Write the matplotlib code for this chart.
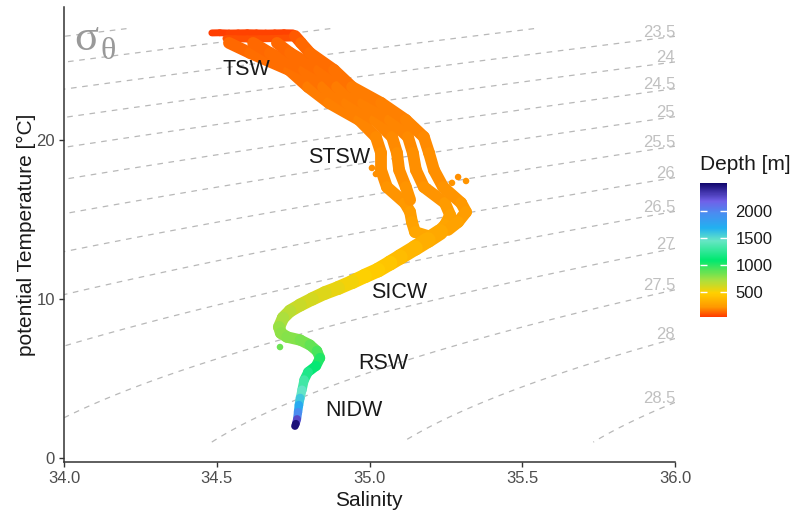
import numpy as np
import matplotlib
matplotlib.use("Agg")
import matplotlib.pyplot as plt
from matplotlib.collections import LineCollection
from matplotlib.colors import LinearSegmentedColormap, Normalize
from matplotlib.cm import ScalarMappable

plt.rcParams['font.family'] = ['Liberation Sans', 'DejaVu Sans']

# ---------------- data ----------------
# surface mixed-layer rows
row1_sal = [34.484, 34.51, 34.54, 34.57, 34.60, 34.63, 34.66, 34.69, 34.72, 34.75]
row1_temp = [26.73, 26.74, 26.72, 26.73, 26.74, 26.73, 26.72, 26.73, 26.74, 26.73]
row1_depth = [45, 46, 47, 48, 49, 50, 51, 52, 53, 55]

row2_sal = [34.53, 34.56, 34.60, 34.64, 34.68, 34.72, 34.77]
row2_temp = [26.38, 26.36, 26.35, 26.36, 26.37, 26.40, 26.42]
row2_depth = [85, 84, 83, 82, 81, 80, 80]

# upper (TSW / STSW) streaks, left to right
s1_sal = [34.540, 34.609, 34.737, 34.799, 34.867, 34.966, 35.021, 35.038, 35.038, 35.057, 35.116, 35.133, 35.139, 35.149, 35.191]
s1_temp = [26.10, 25.47, 24.40, 23.33, 22.33, 21.26, 20.19, 19.18, 18.11, 17.04, 16.04, 15.47, 14.84, 14.21, 13.96]
s1_depth = [120, 130, 145, 160, 172, 182, 190, 198, 206, 215, 225, 235, 255, 280, 290]

s2_sal = [34.619, 34.674, 34.786, 34.848, 34.926, 35.018, 35.074, 35.090, 35.097, 35.119, 35.133]
s2_temp = [26.10, 25.47, 24.40, 23.33, 22.33, 21.26, 20.19, 19.18, 18.11, 17.04, 16.23]
s2_depth = [120, 130, 145, 160, 172, 182, 190, 198, 206, 215, 222]

s3_sal = [34.697, 34.740, 34.835, 34.894, 34.979, 35.067, 35.126, 35.142, 35.152, 35.178, 35.247, 35.264, 35.247, 35.224]
s3_temp = [26.10, 25.47, 24.40, 23.33, 22.33, 21.26, 20.19, 19.18, 18.11, 17.04, 16.04, 15.28, 14.65, 14.21]
s3_depth = [120, 130, 145, 160, 172, 182, 190, 198, 206, 215, 225, 240, 262, 280]

s4_sal = [34.756, 34.776, 34.805, 34.884, 34.943, 35.038, 35.119, 35.178, 35.195, 35.211, 35.241, 35.300, 35.316, 35.290, 35.257]
s4_temp = [26.54, 26.10, 25.47, 24.40, 23.33, 22.33, 21.26, 20.19, 19.18, 18.11, 17.04, 16.04, 15.47, 14.84, 14.34]
s4_depth = [75, 120, 130, 145, 160, 172, 182, 190, 198, 206, 215, 225, 235, 255, 272]

# lower profile (SICW, RSW, NIDW)
low_sal = [35.231, 35.191, 35.149, 35.100, 35.067, 35.028, 34.985, 34.943, 34.897, 34.854,
           34.812, 34.773, 34.740, 34.717, 34.704, 34.710, 34.730, 34.773, 34.805, 34.828,
           34.838, 34.825, 34.799, 34.786, 34.779, 34.773, 34.769, 34.766, 34.763, 34.759, 34.756]
low_temp = [14.21, 13.71, 13.21, 12.64, 12.26, 11.82, 11.45, 11.07, 10.69, 10.38,
            10.00, 9.62, 9.25, 8.81, 8.24, 7.86, 7.61, 7.42, 7.11, 6.73,
            6.29, 5.79, 5.41, 4.91, 4.28, 3.77, 3.33, 2.89, 2.45, 2.16, 2.01]
low_depth = [280, 305, 340, 380, 410, 445, 475, 505, 535, 560,
             590, 620, 650, 690, 740, 770, 790, 810, 850, 900,
             970, 1070, 1150, 1250, 1390, 1520, 1650, 1820, 2100, 2450, 2515]

# scattered single points
extra_sal = [35.290, 35.316, 35.270, 35.008, 35.021, 34.707]
extra_temp = [17.67, 17.42, 17.30, 18.24, 17.86, 6.98]
extra_depth = [210, 212, 212, 205, 208, 860]

water_masses = ["TSW", "STSW", "SICW", "RSW", "NIDW"]
wm_sal = [34.596, 34.900, 35.097, 35.044, 34.949]
wm_temp = [24.40, 18.87, 10.38, 5.97, 2.96]

sigma_levels = np.arange(22.0, 29.0, 0.5)
depth_ticks = [500, 1000, 1500, 2000]
x_ticks = [34.0, 34.5, 35.0, 35.5, 36.0]
x_ticklabels = ["34.0", "34.5", "35.0", "35.5", "36.0"]
y_ticks = [0, 10, 20]

# ---------------- styling ----------------
dmin, dmax = 37, 2520
node_depths = [37, 225, 480, 720, 1090, 1450, 1690, 1965, 2185, 2520]
node_colors = ["#ff3d00", "#ff9a00", "#ffd000", "#a8e040", "#00e870",
               "#66e6c4", "#22b0f0", "#4a8cf0", "#7060e8", "#12086e"]
pos = [(d - dmin) / (dmax - dmin) for d in node_depths]
cmap = LinearSegmentedColormap.from_list("depth", list(zip(pos, node_colors)))
norm = Normalize(vmin=dmin, vmax=dmax)


def sigma_theta(S, T):
    S = S * 35.0 / 35.16504
    rw = (999.842594 + 6.793952e-2 * T - 9.095290e-3 * T**2 + 1.001685e-4 * T**3
          - 1.120083e-6 * T**4 + 6.536332e-9 * T**5)
    A = 8.24493e-1 - 4.0899e-3 * T + 7.6438e-5 * T**2 - 8.2467e-7 * T**3 + 5.3875e-9 * T**4
    B = -5.72466e-3 + 1.0227e-4 * T - 1.6546e-6 * T**2
    C = 4.8314e-4
    return rw + A * S + B * S**1.5 + C * S**2 - 1000.0


fig = plt.figure(figsize=(7.95, 5.13), dpi=100)
ax = fig.add_axes([64 / 795, 51.3 / 513, 611 / 795, 454.7 / 513])

# isopycnals
Sg = np.linspace(34.0, 36.0, 301)
Tg = np.linspace(1.0, 27.0, 401)
SS, TT = np.meshgrid(Sg, Tg)
sig = sigma_theta(SS, TT)
cs = ax.contour(SS, TT, sig, levels=sigma_levels, colors="#b8b8b8",
                linewidths=0.9, linestyles="dashed", zorder=1)
cs.set_linestyle([(0, (4.5, 4.5))])

Tfine = np.linspace(1.0, 27.0, 2601)
sig36 = sigma_theta(np.full_like(Tfine, 36.0), Tfine)
for lv in sigma_levels:
    if sig36.min() <= lv <= sig36.max():
        t_end = np.interp(lv, sig36[::-1], Tfine[::-1])
        ax.text(36.0, t_end - 0.22, f"{lv:g}", ha="right", va="bottom",
                fontsize=12, color="#c0c0c0", zorder=1.5)


def add_trace(s, t, d, lw):
    pts = np.column_stack([s, t])
    segs = np.stack([pts[:-1], pts[1:]], axis=1)
    dd = np.asarray(d, dtype=float)
    lc = LineCollection(segs, cmap=cmap, norm=norm, linewidths=lw,
                        capstyle="round", joinstyle="round", zorder=2)
    lc.set_array((dd[:-1] + dd[1:]) / 2)
    ax.add_collection(lc)


add_trace(row1_sal, row1_temp, row1_depth, 5.0)
add_trace(row2_sal, row2_temp, row2_depth, 5.0)
add_trace(s1_sal, s1_temp, s1_depth, 8.5)
add_trace(s2_sal, s2_temp, s2_depth, 8.5)
add_trace(s3_sal, s3_temp, s3_depth, 8.5)
add_trace(s4_sal, s4_temp, s4_depth, 8.5)
add_trace(low_sal, low_temp, low_depth, list(np.linspace(11.5, 5.5, len(low_sal) - 1)))
ax.scatter(extra_sal, extra_temp, c=extra_depth, cmap=cmap, norm=norm, s=22,
           linewidths=0, zorder=2)

for name, s, t in zip(water_masses, wm_sal, wm_temp):
    ax.text(s, t, name, ha="center", va="center", fontsize=15.5, color="#1a1a1a", zorder=3)

ax.text(34.034, 25.66, "σ", fontsize=32, color="#999999", family="Liberation Serif",
        ha="left", va="baseline", zorder=3)
ax.text(34.118, 25.09, "θ", fontsize=23, color="#999999", family="Liberation Serif",
        ha="left", va="baseline", zorder=3)

ax.set_xlim(34.0, 36.0)
ax.set_ylim(-0.23, 28.36)
ax.set_xticks(x_ticks)
ax.set_xticklabels(x_ticklabels)
ax.set_yticks(y_ticks)
for sp in ["top", "right"]:
    ax.spines[sp].set_visible(False)
for sp in ["left", "bottom"]:
    ax.spines[sp].set_color("#333333")
    ax.spines[sp].set_linewidth(1.1)
ax.tick_params(direction="out", length=3.5, width=1.0, color="#333333",
               labelcolor="#4d4d4d", labelsize=12, pad=3)

fig.text(369 / 795, 1 - 500 / 513, "Salinity", ha="center", va="center",
         fontsize=15, color="#1a1a1a")
fig.text(26 / 795, 1 - 235 / 513, "potential Temperature [°C]", ha="center",
         va="center", rotation=90, fontsize=15, color="#1a1a1a")

# colourbar legend
cax = fig.add_axes([700 / 795, (513 - 317) / 513, 27 / 795, 134 / 513])
sm = ScalarMappable(norm=norm, cmap=cmap)
cb = fig.colorbar(sm, cax=cax, ticks=depth_ticks)
cb.outline.set_visible(False)
cax.tick_params(direction="in", length=5, width=1.0, color="white",
                left=True, right=True, labelleft=False, labelright=True,
                labelsize=12, labelcolor="#1a1a1a", pad=6)
fig.text(700 / 795, 1 - 165 / 513, "Depth [m]", ha="left", va="center",
         fontsize=15, color="#1a1a1a")

fig.savefig("out.png", dpi=100)
